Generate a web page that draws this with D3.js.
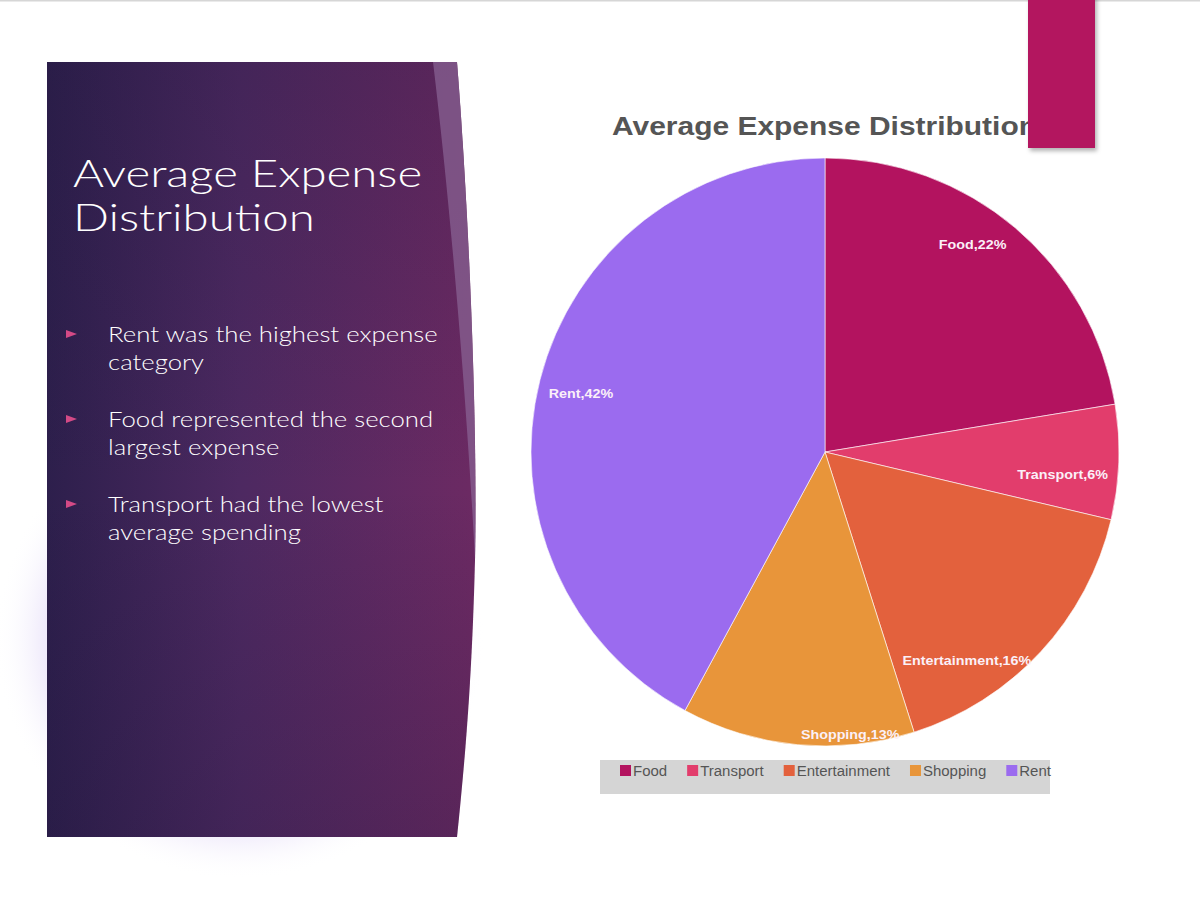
<!DOCTYPE html>
<html>
<head>
<meta charset="utf-8">
<script src="https://cdn.jsdelivr.net/npm/d3@7"></script>
<style>
  body { margin: 0; background: #fff; }
  svg { display: block; }
</style>
</head>
<body>
<svg width="1200" height="900"></svg>
<script>
// slide data
var slideTitle = ["Average Expense", "Distribution"];
var bullets = [
  ["Rent was the highest expense", "category"],
  ["Food represented the second", "largest expense"],
  ["Transport had the lowest", "average spending"]
];
var chartTitle = "Average Expense Distribution";
var categories = ["Food", "Transport", "Entertainment", "Shopping", "Rent"];
var shares = [22.4, 6.3, 16.4, 12.8, 42.1];
var colors = ["#b3135f", "#e23d6c", "#e3613d", "#e8953a", "#9b6bef"];

var svg = d3.select("svg"),
    width = +svg.attr("width"),
    height = +svg.attr("height");

var defs = svg.append("defs");

var panelGrad = defs.append("linearGradient").attr("id", "panelGrad")
    .attr("x1", "0%").attr("y1", "0%").attr("x2", "100%").attr("y2", "0%");
panelGrad.append("stop").attr("offset", "0%").attr("stop-color", "#2d1f4c");
panelGrad.append("stop").attr("offset", "45%").attr("stop-color", "#4d2961");
panelGrad.append("stop").attr("offset", "100%").attr("stop-color", "#6c2a63");

var panelShade = defs.append("linearGradient").attr("id", "panelShade")
    .attr("x1", "0%").attr("y1", "0%").attr("x2", "0%").attr("y2", "100%");
panelShade.append("stop").attr("offset", "0%").attr("stop-color", "#1d1438").attr("stop-opacity", 0.2);
panelShade.append("stop").attr("offset", "55%").attr("stop-color", "#1d1438").attr("stop-opacity", 0);
panelShade.append("stop").attr("offset", "100%").attr("stop-color", "#1d1438").attr("stop-opacity", 0.22);

var glow = defs.append("radialGradient").attr("id", "glow");
glow.append("stop").attr("offset", "0%").attr("stop-color", "#e2d9f7");
glow.append("stop").attr("offset", "80%").attr("stop-color", "#f0ebfb");
glow.append("stop").attr("offset", "100%").attr("stop-color", "#ffffff").attr("stop-opacity", 0);

var shadow = defs.append("filter").attr("id", "shadow")
    .attr("x", "-20%").attr("y", "-20%").attr("width", "150%").attr("height", "150%");
shadow.append("feDropShadow").attr("dx", 2).attr("dy", 3).attr("stdDeviation", 2)
    .attr("flood-color", "#000").attr("flood-opacity", 0.3);

// top border line
svg.append("line").attr("x1", 0).attr("x2", width).attr("y1", 0.5).attr("y2", 0.5)
    .attr("stroke", "#d6d6d6").attr("stroke-width", 2);

// soft glow behind the panel
svg.append("ellipse").attr("cx", 240).attr("cy", 640).attr("rx", 245).attr("ry", 240)
    .attr("fill", "url(#glow)");

// left panel
var panelPath = "M47,62 L457,62 C468,200 478,420 475,560 C472,680 465,760 457,837 L47,837 Z";
svg.append("path").attr("d", panelPath).attr("fill", "url(#panelGrad)");
svg.append("path").attr("d", panelPath).attr("fill", "url(#panelShade)");
svg.append("path")
    .attr("d", "M433,62 L457,62 C468,200 478,420 475,560 C468,420 452,220 433,62 Z")
    .attr("fill", "#8a6596").attr("opacity", 0.7);

var left = svg.append("g").attr("fill", "#fff")
    .style("font-family", "Lato, 'Open Sans', sans-serif");

// fit a text to the width it has on the slide
function fit(sel, factor) {
  sel.each(function() {
    var w = this.getComputedTextLength();
    d3.select(this).attr("textLength", w * factor).attr("lengthAdjust", "spacingAndGlyphs");
  });
}

left.selectAll("text.title").data(slideTitle).enter().append("text")
    .attr("class", "title")
    .attr("x", 73).attr("y", function(d, i) { return 187 + i * 44; })
    .style("font-size", "37px").style("font-weight", 300)
    .text(function(d) { return d; })
    .call(fit, 1.28);

var bl = left.selectAll("g.bullet").data(bullets).enter().append("g")
    .attr("class", "bullet")
    .attr("transform", function(d, i) { return "translate(0," + (342 + i * 85) + ")"; });

bl.append("path").attr("d", "M66,-12 L77,-8 L66,-4 Z").attr("fill", "#d44a86");

bl.selectAll("text").data(function(d) { return d; }).enter().append("text")
    .attr("x", 108).attr("y", function(d, i) { return i * 28; })
    .style("font-size", "22px").style("font-weight", 300)
    .text(function(d) { return d; })
    .call(fit, 1.17);

// pie chart
var cx = 825, cy = 452, r = 294;

var pie = d3.pie().sort(null).value(function(d) { return d.value; });
var arc = d3.arc().innerRadius(0).outerRadius(r);
var color = d3.scaleOrdinal().domain(categories).range(colors);

var data = categories.map(function(c, i) { return { name: c, value: shares[i] }; });
var arcs = pie(data);

var g = svg.append("g").attr("transform", "translate(" + cx + "," + cy + ")");

g.selectAll("path.slice").data(arcs).enter().append("path")
    .attr("class", "slice")
    .attr("d", arc)
    .attr("fill", function(d) { return color(d.data.name); })
    .attr("stroke", "#fff").attr("stroke-width", 0.6);

g.selectAll("text.label").data(arcs).enter().append("text")
    .attr("class", "label")
    .each(function(d) {
      var a = (d.startAngle + d.endAngle) / 2,
          px = Math.sin(a) * r * 0.98,
          py = -Math.cos(a) * r * 0.98,
          below = Math.cos(a) > -0.9;
      d3.select(this)
        .attr("x", Math.sin(a) > 0 ? px - 5 : px + 3)
        .attr("y", below ? py + 17 : py)
        .attr("text-anchor", Math.sin(a) > 0 ? "end" : "start");
    })
    .attr("fill", "#fbf0f8")
    .style("font-family", "'Liberation Sans', Arial, sans-serif")
    .style("font-weight", "bold")
    .style("font-size", "13px")
    .text(function(d) { return d.data.name + "," + Math.round(d.data.value) + "%"; })
    .call(fit, 1.1);

// chart title
svg.append("text")
    .attr("x", 612).attr("y", 135)
    .attr("fill", "#555")
    .style("font-family", "'Liberation Sans', Arial, sans-serif")
    .style("font-weight", "bold")
    .style("font-size", "26px")
    .text(chartTitle)
    .attr("textLength", 425).attr("lengthAdjust", "spacingAndGlyphs");

// legend
var legend = svg.append("g");
legend.append("rect").attr("x", 600).attr("y", 760).attr("width", 450).attr("height", 34)
    .attr("fill", "#d5d5d5");

var lx = 620;
categories.forEach(function(c) {
  legend.append("rect").attr("x", lx).attr("y", 765).attr("width", 11).attr("height", 11)
      .attr("fill", color(c));
  var t = legend.append("text").attr("x", lx + 13).attr("y", 776)
      .attr("fill", "#555")
      .style("font-family", "'Liberation Sans', Arial, sans-serif")
      .style("font-size", "14px")
      .text(c);
  var w = t.node().getComputedTextLength() * 1.07;
  t.attr("textLength", w).attr("lengthAdjust", "spacingAndGlyphs");
  lx += 13 + w + 20;
});

// magenta accent bar
svg.append("rect").attr("x", 1028).attr("y", -5).attr("width", 67).attr("height", 153)
    .attr("fill", "#b3135f").attr("filter", "url(#shadow)");
</script>
</body>
</html>
